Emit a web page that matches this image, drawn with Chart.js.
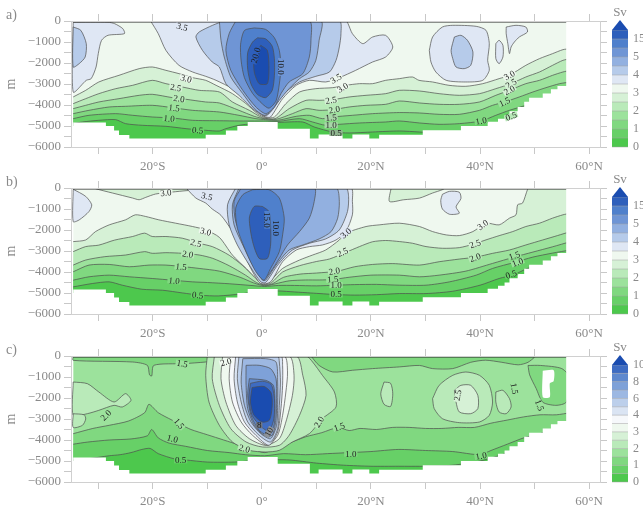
<!DOCTYPE html>
<html>
<head>
<meta charset="utf-8">
<script src="https://cdn.jsdelivr.net/npm/chart.js@4.4.1/dist/chart.umd.min.js"></script>
<style>
  body { margin: 0; background: #fff; width: 643px; height: 509px; position: relative; overflow: hidden; }
  canvas { position: absolute; left: 0; }
</style>
</head>
<body>
<canvas id="pa" width="643" height="175" style="top:0"></canvas>
<canvas id="pb" width="643" height="175" style="top:167px"></canvas>
<canvas id="pc" width="643" height="175" style="top:335px"></canvas>
<script>
// colour levels (Sv)
const G = ['#4dc84d', '#67d067', '#80d880', '#9ce29c', '#b9eab9', '#d6f1d6', '#eff8ef']; // 0-0.5 ... 3-3.5
const B = ['#dfe7f4', '#b6cbea', '#92b0e0', '#6f95d5', '#4f80cc', '#2e5fbb', '#1a4cb0']; // 3.5-4,4-4.5,4.5-5,5-10,10-15,15-20,>20
const BC = ['#f6f8fb', '#dae4f3', '#bccfeb', '#9db8e2', '#7ea1d8', '#5f89ce', '#3e6cc2', '#1a4cb0']; // panel c: 3.5-4,4-5,...,9-10,>10
const LINE = '#4d4d4d';

// bottom topography, shared by the three panels (lat, depth)
const bathyLat = [-35, -34.6, -28.6, -27.1, -26.2, -24.3, -10.3, -6.6, -4.5, -2.6, 2.9, 8.8, 10.4, 14.8, 16.6, 19.7, 21.5, 29.5, 36.5, 41.4, 43.3, 44.5, 45.4, 46.9, 48.1, 49.0, 51.5, 53.0, 54.2, 55.8, 56.6, 62];
const bathyDep = [0, -5000, -4830, -5000, -5220, -5430, -5590, -5420, -5210, -5000, -4810, -5130, -5590, -5410, -5590, -5410, -5590, -5420, -5200, -5000, -4800, -4650, -4500, -4300, -4100, -3850, -3650, -3450, -3250, -3100, 0, 0];

// ---------- panel a : contours [lat, depth]
const a_c30 = [[-34.6,-3618],[-32.3,-3301],[-29.9,-2904],[-26.2,-2587],[-22.5,-2269],[-20.1,-2190],[-17.6,-2349],[-15.2,-2507],[-12.7,-2698],[-10.3,-2825],[-8.4,-3063],[-5.4,-3460],[-2.9,-3936],[-0.8,-4412],[0.7,-4602],[2.3,-4571],[4.4,-3936],[6.9,-3380],[9.9,-3222],[13.0,-3174],[15.4,-3063],[17.9,-2984],[20.3,-2984],[22.7,-2825],[25.2,-2745],[27.6,-2666],[28.8,-2825],[31.3,-2904],[34.3,-3063],[37.4,-3110],[40.5,-2984],[43.5,-2745],[45.4,-2587],[48.4,-2111],[50.9,-1793],[53.3,-1555],[55.2,-1365],[56.6,-1317]];
const a_c25 = [[-34.6,-3936],[-32.3,-3698],[-29.9,-3460],[-26.8,-3222],[-23.7,-3063],[-20.1,-2825],[-17.6,-2984],[-14.6,-3142],[-11.5,-3301],[-7.8,-3380],[-5.4,-3856],[-2.3,-4253],[0.1,-4602],[2.4,-4650],[5.0,-4174],[8.1,-3777],[10.5,-3777],[13.0,-3745],[16.0,-3618],[19.1,-3539],[22.7,-3460],[25.2,-3300],[28.9,-3333],[32.5,-3460],[36.2,-3539],[39.9,-3460],[42.9,-3222],[45.7,-2984],[48.4,-2666],[50.9,-2428],[53.3,-2111],[55.2,-1873],[56.6,-1793]];
const a_c20 = [[-34.6,-4174],[-32.3,-4015],[-29.9,-3856],[-26.2,-3698],[-22.5,-3539],[-20.1,-3491],[-16.4,-3650],[-13.9,-3729],[-10.3,-3856],[-7.8,-3904],[-4.2,-4253],[-1.4,-4539],[0.4,-4650],[2.6,-4682],[5.6,-4412],[8.1,-4174],[10.5,-4253],[13.0,-4221],[16.0,-4094],[19.1,-4015],[22.7,-3968],[25.2,-3809],[28.9,-3904],[32.5,-3968],[36.2,-3968],[39.9,-3856],[42.9,-3539],[45.4,-3301],[48.4,-2984],[50.9,-2825],[53.3,-2587],[55.2,-2428],[56.6,-2349]];
const a_c15 = [[-34.6,-4412],[-31.7,-4253],[-28.0,-4094],[-25.0,-4063],[-20.1,-4015],[-16.4,-4126],[-12.7,-4253],[-7.8,-4333],[-4.2,-4491],[-1.1,-4650],[0.7,-4698],[2.9,-4729],[6.3,-4539],[8.7,-4491],[11.1,-4650],[13.0,-4571],[16.6,-4491],[20.3,-4412],[25.2,-4360],[28.9,-4380],[32.5,-4444],[36.2,-4444],[39.9,-4253],[42.3,-4015],[44.5,-3856],[47.2,-3618],[49.7,-3380],[52.1,-3174],[54.6,-2984],[56.6,-2904]];
const a_c10 = [[-34.6,-4650],[-31.7,-4491],[-26.8,-4412],[-23.7,-4491],[-20.1,-4571],[-16.4,-4618],[-12.7,-4729],[-7.8,-4750],[-4.2,-4761],[-0.5,-4761],[1.0,-4761],[3.1,-4777],[6.9,-4650],[9.3,-4809],[11.7,-4967],[14.2,-4920],[17.9,-4856],[22.7,-4809],[25.2,-4761],[28.9,-4856],[32.5,-4920],[36.2,-4888],[40.2,-4761],[42.9,-4491],[45.4,-4253],[48.4,-4015],[50.9,-3777],[53.3,-3539],[55.8,-3301],[56.6,-3269]];
const a_c05 = [[-34.6,-4888],[-32.9,-4809],[-29.9,-4729],[-26.8,-4698],[-25.0,-4888],[-21.9,-4967],[-17.6,-5015],[-13.9,-5126],[-10.3,-5205],[-7.8,-5237],[-6.6,-5126],[-4.2,-4967],[-1.7,-4888],[1.3,-4825],[3.2,-4825],[7.5,-4809],[9.6,-5047],[13.0,-5285],[16.0,-5332],[20.3,-5285],[25.2,-5237],[28.9,-5285],[32.5,-5332],[36.2,-5285],[39.9,-5126],[42.9,-4888],[45.7,-4571],[48.4,-4333],[50.9,-4174],[53.3,-3856],[55.2,-3698],[56.6,-3539]];
// panel a : closed areas
const a_L35 = [[-34.6,-60],[-28.2,-60],[-27,-127],[-25.5,-365],[-25.2,-600],[-28.2,-680],[-29.4,-920],[-30,-1555],[-30.4,-2190],[-31.3,-2745],[-32.2,-2825],[-34.6,-3380]];
const a_L40 = [[-34.6,-285],[-33.2,-445],[-32.2,-1080],[-32.4,-1715],[-33.5,-2030],[-34.6,-2190]];
const a_K35 = [[-20.4,0],[-19,-603],[-17.6,-1397],[-15.2,-2111],[-12.7,-2428],[-10.3,-2634],[-8.4,-2825],[-5.4,-3222],[-2.3,-3856],[0.1,-4491],[0.7,-4571],[1.6,-4571],[3.8,-3698],[6.3,-3063],[8.7,-2825],[11.7,-2904],[14.2,-2698],[17.2,-2349],[20.3,-1952],[22.7,-1714],[24,-1238],[22.7,-682],[20.3,-762],[18.5,-1079],[16.6,-603],[15.8,-127],[15.4,0]];
const a_K40 = [[-7,0],[-9,-200],[-11.5,-524],[-12.1,-762],[-10.9,-1397],[-9.1,-1952],[-7.8,-2190],[-6.6,-2984],[-4.2,-3539],[-1.7,-4174],[0.1,-4491],[1.0,-4491],[2.6,-3936],[4.4,-3380],[6.9,-2904],[9.9,-2634],[12.4,-2428],[13.6,-1873],[14.2,-1238],[14.5,-603],[14.2,0]];
const a_K45 = [[-7.8,0],[-7.5,-920],[-6.9,-1714],[-5.7,-2666],[-3.5,-3460],[-1.4,-4174],[0.4,-4491],[1.6,-4333],[3.2,-3777],[5.0,-3222],[6.9,-2745],[8.7,-2428],[9.9,-1873],[10.5,-920],[10.8,0]];
const a_K5 = [[-4.8,0],[-6.0,-603],[-6.6,-1397],[-5.7,-2349],[-3.5,-3301],[-1.1,-4094],[0.7,-4412],[2.3,-4094],[3.5,-3460],[5.0,-2904],[7.5,-2507],[8.7,-1714],[9.0,-920],[8.7,0]];
const a_K10 = [[-1.4,-330],[-3.2,-450],[-3.9,-1100],[-3.8,-1900],[-3.2,-2700],[-1.7,-3450],[0.1,-3950],[1.3,-4150],[2.6,-3800],[3.2,-3000],[3.5,-2200],[3.2,-1400],[2.3,-800],[0.7,-400]];
const a_K15 = [[-0.8,-800],[-1.7,-1000],[-2.6,-1500],[-2.6,-2300],[-2.0,-3000],[-0.8,-3500],[0.7,-3650],[1.9,-3300],[2.3,-2600],[2.3,-1800],[1.9,-1200],[0.7,-850]];
const a_K20 = [[-0.2,-1159],[-1.4,-1714],[-1.4,-2428],[-0.5,-2984],[1.0,-2984],[1.3,-2190],[1.0,-1397]];
const a_R35 = [[30.7,-1397],[31.3,-762],[33.1,-286],[35,-206],[39.3,-254],[41.1,-444],[41.7,-1079],[41.4,-1873],[41.7,-2349],[40.5,-2825],[37.4,-2904],[33.8,-2825],[31.9,-2428],[31,-1952]];
const a_R40 = [[35.3,-762],[36.5,-682],[37.7,-920],[38.7,-1476],[38.3,-2111],[37.1,-2269],[35.6,-2190],[35,-1793],[34.7,-1397]];
const a_F1 = [[42.9,-1079],[43.5,-920],[44.2,-1159],[44.2,-1714],[43.5,-2032],[42.9,-1793]];
const a_F2 = [[44.8,-286],[46.6,-206],[48.4,-286],[48.7,-524],[47.2,-762],[46.3,-1000],[45.7,-1238],[45.4,-1555],[45.1,-1079],[44.8,-603]];
const a_labels = [[-14.6,-286,'3.5',15],[-13.9,-2745,'3.0',15],[-15.8,-3174,'2.5',10],[-15.2,-3698,'2.0',8],[-16.1,-4142,'1.5',5],[-17.0,-4650,'1.0',5],[-11.8,-5205,'0.5',5],
  [-1.1,-1635,'20.0',-75],[3.5,-2190,'10.0',90],
  [13.6,-2745,'3.5',-30],[14.8,-3174,'3.0',-30],[12.7,-3777,'2.5',-10],[13.3,-4221,'2.0',-10],[12.7,-4602,'1.5',-5],[12.7,-4967,'1.0',0],[13.6,-5332,'0.5',0],
  [45.4,-2587,'3.0',-30],[45.7,-2984,'2.5',-30],[45.4,-3301,'2.0',-30],[44.5,-3856,'1.5',-25],[40.2,-4761,'1.0',-10],[45.7,-4539,'0.5',-20]];

// ---------- panel b
const b_c30 = [[-34.6,-2554],[-32.3,-2474],[-30.5,-2075],[-28,-1756],[-25,-1516],[-23.2,-1277],[-21.3,-1357],[-18.9,-1516],[-15.8,-1676],[-12.7,-1835],[-10.3,-1995],[-7.8,-2350],[-5.4,-3192],[-2.9,-3830],[-0.8,-4389],[0.7,-4600],[2,-4300],[3.8,-3830],[6.9,-3431],[9.3,-3192],[11.7,-2953],[14.2,-2474],[15.4,-2155],[19.1,-1835],[21.5,-1756],[25.2,-1676],[28.9,-1835],[31.3,-2075],[33.8,-2234],[36.2,-2266],[38.7,-2075],[41.1,-1676],[43.5,-1756],[45.4,-1436],[46.6,-1277],[46.9,-798],[47.8,-718],[48.7,-80],[49,0],[57,0]];
const b_c25 = [[-34.6,-3030],[-32.3,-2790],[-29.9,-2720],[-27,-2480],[-23.7,-2310],[-21.5,-2150],[-20.1,-2310],[-17.6,-2310],[-14.6,-2390],[-11.5,-2633],[-9,-2800],[-6,-3200],[-3.5,-3700],[-1.5,-4200],[0.3,-4620],[1.8,-4500],[3.8,-4000],[6.9,-3700],[10,-3500],[12.4,-3380],[15.4,-3064],[17.9,-2790],[20.3,-2560],[22.7,-2500],[25.2,-2550],[27.6,-2630],[30.1,-2790],[33.1,-2870],[36.2,-2840],[38.7,-2680],[41.1,-2470],[43.5,-2270],[46,-2075],[48.4,-1835],[50.9,-1676],[53.3,-1436],[55.2,-1277],[56.6,-1197]];
const b_c20 = [[-34.6,-3670],[-32.3,-3430],[-28.8,-3270],[-25,-3192],[-21.5,-3030],[-20.1,-3110],[-17.6,-3080],[-14.6,-3110],[-11.5,-3190],[-9,-3350],[-6,-3700],[-3,-4150],[-1,-4500],[0.5,-4640],[2,-4550],[4,-4250],[7,-4100],[10,-4050],[13.9,-3958],[17,-3750],[20.3,-3640],[24,-3600],[28.9,-3671],[32.5,-3511],[36.2,-3384],[39.3,-3288],[42.3,-3112],[45.4,-2953],[48.4,-2713],[51.5,-2474],[54.2,-2266],[56.6,-2075]];
const b_c15 = [[-34.6,-3990],[-31.7,-3671],[-28,-3640],[-24.3,-3750],[-20.7,-3671],[-17.6,-3671],[-14.2,-3751],[-11.5,-3830],[-7.8,-3958],[-4,-4250],[-1.5,-4520],[0.5,-4660],[2.5,-4560],[5,-4420],[8,-4380],[10.5,-4380],[13,-4357],[16,-4250],[20,-4150],[25.2,-4150],[28.9,-4229],[32.5,-4150],[37.4,-3958],[42.3,-3591],[46.3,-3288],[49.7,-3050],[53.3,-2800],[56.6,-2554]];
const b_c10 = [[-34.6,-4389],[-31.7,-4229],[-28,-4150],[-24.3,-4229],[-20.1,-4309],[-16.4,-4389],[-12.7,-4470],[-10,-4500],[-6,-4560],[-2,-4640],[0.5,-4690],[3,-4640],[6,-4640],[10,-4660],[13.6,-4628],[17,-4600],[21,-4590],[25.2,-4628],[30.1,-4628],[34.4,-4469],[39.3,-4150],[42.3,-3830],[46.3,-3543],[49.7,-3290],[53.3,-3100],[56.6,-2950]];
const b_c05 = [[-34.6,-4708],[-31.1,-4549],[-28,-4469],[-25.6,-4628],[-22,-4820],[-18.2,-4868],[-14.6,-4995],[-11.2,-5107],[-8,-5139],[-4,-5050],[0,-4900],[3,-4900],[6,-4950],[9,-5000],[13.6,-5075],[17,-5100],[21,-5080],[25.2,-5027],[30.1,-5027],[35,-4916],[40,-4628],[43.5,-4309],[46.3,-4118],[48.7,-3830],[51.5,-3670],[53.3,-3511],[56.6,-3250]];
const b_lens = [[-30.5,0],[-30.5,-32],[-27.4,-239],[-23.7,-479],[-22.5,-559],[-21.3,-447],[-19.5,-287],[-16.4,-192],[-13.9,-128],[-11.5,-80],[-11,0]];
const b_L35 = [[-34.6,-60],[-32.3,-400],[-31.2,-800],[-31.7,-1120],[-33.5,-1520],[-34.6,-1600]];
const b_K35 = [[-13.9,0],[-12.1,-479],[-10.3,-718],[-9.1,-1000],[-7.5,-1300],[-5.4,-2075],[-3.5,-3032],[-1.7,-3990],[-0.2,-4549],[1.6,-4469],[3.8,-3511],[6.3,-2953],[8.7,-2793],[11.1,-2713],[13.6,-2474],[15.4,-2075],[16.6,-1277],[16.6,-638],[16.3,0]];
const b_K40 = [[-4.8,0],[-6.3,-798],[-6.0,-1756],[-4.5,-2713],[-2.3,-3671],[-0.2,-4469],[0.7,-4501],[2.9,-3671],[5.6,-2953],[8.7,-2633],[11.7,-2426],[14.2,-1995],[15.7,-1117],[15.9,-399],[15.4,0]];
const b_K45 = [[-4.2,0],[-5.4,-798],[-5.1,-1756],[-3.5,-2713],[-1.7,-3671],[0.1,-4389],[0.7,-4389],[2.6,-3671],[5.0,-2953],[7.5,-2713],[10.5,-2426],[12.7,-2075],[13.9,-1436],[14.2,-638],[13.6,0]];
const b_K5 = [[-3.8,0],[-5.1,-638],[-4.8,-1596],[-3.2,-2554],[-1.4,-3591],[0.4,-4309],[1.6,-3990],[3.2,-3352],[4.7,-2713],[6.9,-2075],[8.7,-1436],[9.6,-638],[9.6,0]];
const b_K10 = [[-1.7,-80],[-3.5,-319],[-4.8,-958],[-4.5,-1915],[-2.9,-3032],[-1.1,-3990],[0.4,-4389],[1.6,-3830],[3.2,-3032],[3.8,-2234],[4.1,-1436],[3.2,-479],[1.3,-80]];
const b_K15 = [[0.1,-878],[-1.4,-878],[-2.3,-1436],[-1.7,-2554],[-0.5,-3352],[1.0,-3352],[1.6,-2713],[1.6,-1756],[1.3,-1117]];
const b_TR = [[23.7,0],[23.4,-640],[26,-560],[28.9,-480],[31.3,-240],[33.1,-80],[33.5,0]];
const b_R35 = [[33.1,-300],[34.4,-160],[36.2,-200],[36.5,-500],[35.6,-900],[36.2,-1200],[34.4,-1250],[33.1,-1000],[32.8,-600]];
const b_labels = [[-17.6,-230,'3.0',-5],[-10.1,-399,'3.5',15],[-10.3,-2075,'3.0',15],[-12.1,-2633,'2.5',15],[-13.6,-3160,'2.0',10],[-14.8,-3751,'1.5',5],[-16.1,-4421,'1.0',5],[-11.8,-5107,'0.5',5],
  [1.0,-1516,'15.0',90],[2.6,-1915,'10.0',90],
  [15.4,-2155,'3.0',-40],[14.8,-3064,'2.5',-25],[13.3,-3958,'2.0',-10],[13.0,-4357,'1.5',-5],[13.6,-4628,'1.0',0],[13.6,-5075,'0.5',0],
  [40.5,-1756,'3.0',-35],[39.1,-2665,'2.5',-20],[39.1,-3320,'2.0',-20],[46.3,-3224,'1.5',-20],[46.9,-3543,'1.0',-20],[45.7,-4118,'0.5',-20]];

// ---------- panel c
const c_c15 = [[-34.6,-3700],[-31,-3450],[-28,-3300],[-24.5,-3100],[-21.5,-2700],[-20.7,-2300],[-19,-2700],[-16.5,-3050],[-15.2,-3222],[-13,-3500],[-10,-3750],[-7,-4000],[-4,-4250],[-1.5,-4450],[0.5,-4600],[2.5,-4400],[5,-4150],[8,-3850],[11,-3650],[14,-3400],[16,-3550],[18,-3450],[21,-3500],[24,-3400],[27,-3400],[30,-3450],[33,-3450],[36,-3400],[39,-3400],[42,-3200],[45,-3050],[48,-2900],[51,-2800],[54,-2800],[56.6,-2700]];
const c_c10 = [[-34.6,-4200],[-32,-4100],[-28,-4000],[-24,-3950],[-21,-3800],[-20.2,-3500],[-19,-3900],[-17,-4150],[-14,-4300],[-10,-4500],[-6,-4600],[-3,-4700],[0.5,-4750],[4,-4650],[8,-4700],[12,-4650],[16,-4600],[20,-4550],[25,-4450],[30,-4500],[35,-4550],[40,-4700],[42,-4500],[45,-4200],[48,-3900],[51,-3700],[54,-3400],[56.6,-3100]];
const c_c05 = [[-34.6,-4950],[-32,-4900],[-28,-4750],[-26,-4700],[-24,-4600],[-22,-4450],[-20.5,-4400],[-19,-4650],[-16,-4900],[-14,-4950],[-10,-5050],[-5,-5050],[0,-4950],[5,-4950],[10,-5100],[15,-5200],[20,-5250],[25,-5250],[30,-5250],[35,-5200],[40,-5000],[44,-4700],[48,-4300],[52,-3800],[56.6,-3400]];
const c_TL = [[-34.6,0],[-34.6,-206],[-23.7,-286],[-21,-444],[-20.6,-900],[-20.2,-950],[-19.8,-444],[-14.3,-365],[-10.3,-286],[-7.8,-206],[-6,-100],[-6,0]];
const c_TR = [[9,0],[10.5,-450],[13,-760],[16.6,-680],[20.3,-600],[25.2,-520],[28.9,-450],[31.3,-600],[35,-600],[38.3,-300],[41,-200],[44,-300],[47,-420],[48.8,-300],[50,0]];
const c_D = [[48.8,-450],[51.1,-450],[55,-600],[56.6,-1100],[55.8,-2200],[53.9,-2350],[51.5,-2200],[50.3,-1550],[49.1,-900]];
const c_W = [[51.5,-700],[53.5,-680],[53.5,-1200],[52.8,-1300],[52.8,-1950],[51.5,-1950]];
const c_B1 = [[-34.6,-1238],[-32,-1317],[-29.9,-1714],[-27.1,-2190],[-25,-1793],[-24,-2111],[-25.6,-2428],[-27.1,-2349],[-29.9,-2587],[-32,-2746],[-34.6,-2825]];
const c_B2 = [[-34.6,-2750],[-32.6,-2800],[-32.3,-3000],[-32.9,-3300],[-34.6,-3400]];
const c_R1 = [[22.4,-1240],[23.6,-1300],[24,-1800],[23.6,-2400],[22.4,-2300],[21.8,-1800]];
const c_R2 = [[31.3,-2031],[32.5,-1397],[35,-920],[37.4,-762],[39.9,-920],[41.7,-1397],[42.3,-2190],[41.7,-2825],[39.9,-3142],[36.2,-3174],[33.1,-2984],[31.6,-2507]];
const c_R25 = [[35.3,-1635],[36.5,-1397],[38.3,-1397],[39.6,-1873],[39.6,-2507],[38.3,-2746],[36.2,-2666],[35.6,-2190]];
const c_F1 = [[42.9,-1714],[44.2,-1635],[45.4,-2031],[45.7,-2428],[44.8,-2746],[43.5,-2666],[42.9,-2190]];
const c_K20 = [[-10.0,0],[-10.3,-920],[-9.7,-2190],[-7.8,-3301],[-5.4,-4094],[-2.3,-4491],[0.7,-4571],[3.2,-4491],[5.6,-4094],[8.7,-3698],[11.1,-2984],[13.6,-2428],[13.3,-1714],[11.1,-920],[9.3,-286],[8.1,0]];
const c_K25 = [[-8.7,0],[-9.1,-1079],[-7.8,-2349],[-5.7,-3460],[-2.9,-4094],[0.1,-4333],[3.2,-4253],[5.0,-3777],[6.9,-2825],[8.1,-1873],[7.5,-920],[6.3,0]];
const c_K30 = [[-7.2,0],[-7.5,-1079],[-6.6,-2190],[-4.8,-3301],[-2.3,-3936],[0.7,-4253],[3.2,-3936],[4.4,-3142],[5.6,-1873],[5.9,-920],[5.0,0]];
const c_K35 = [[-5.7,0],[-6.0,-1079],[-5.4,-2190],[-3.8,-3142],[-1.7,-3777],[1.0,-4253],[2.9,-3777],[3.8,-2825],[4.4,-1714],[4.7,-762],[4.1,0]];
const c_K4 = [[-4.8,0],[-5.1,-1079],[-4.5,-2190],[-3.2,-3142],[-1.1,-3777],[1.3,-4253],[2.9,-3618],[3.5,-2507],[3.8,-1397],[3.8,-444],[3.5,0]];
const c_K5 = [[-4.2,0],[-4.5,-1079],[-3.8,-2190],[-2.6,-3142],[-0.5,-3777],[1.6,-4094],[2.9,-3460],[3.2,-2349],[3.4,-1238],[3.2,-286],[2.9,0]];
const c_K6 = [[-3.5,-127],[-3.8,-1238],[-3.2,-2349],[-2.0,-3142],[-0.2,-3698],[1.6,-3936],[2.7,-3301],[2.9,-2190],[2.9,-1238],[2.6,-286],[0.7,-127]];
const c_K7 = [[-2.9,-444],[-2.9,-1397],[-2.6,-2507],[-1.4,-3301],[0.4,-3777],[1.9,-3777],[2.6,-2984],[2.7,-2031],[2.6,-1079],[1.6,-603],[-0.5,-444]];
const c_K8 = [[-2.3,-1079],[-2.6,-1873],[-2.0,-2825],[-0.5,-3539],[1.3,-3777],[2.3,-3222],[2.4,-2190],[2.1,-1397],[0.7,-1159]];
const c_K9 = [[-2.1,-1300],[-2.4,-2031],[-1.8,-2825],[-0.2,-3350],[1.3,-3580],[2.2,-2984],[2.3,-2031],[1.7,-1350],[0.1,-1200]];
const c_K10 = [[-1.8,-1500],[-2.1,-2190],[-1.5,-2800],[0.1,-3150],[1.4,-3050],[1.9,-2349],[1.7,-1750],[0.4,-1450]];
const c_labels = [[-14.6,-365,'1.5',10],[-28.6,-2825,'2.0',-45],[-15.2,-3222,'1.5',50],[-16.4,-3936,'1.0',15],[-14.9,-4967,'0.5',0],
  [-6.6,-286,'2.0',-15],[-3.2,-4412,'2.0',15],[-0.5,-3301,'8',0],[1.3,-3618,'10',-60],[10.5,-3142,'2.0',-60],[14.2,-3380,'1.5',-20],[16.3,-4650,'1.0',0],
  [35.9,-1873,'2.5',-80],[46.3,-1555,'1.5',80],[50.9,-2349,'1.5',70],[40.2,-4761,'1.0',-10]];

// colour bars
const barAB = [...G, ...B.slice(0, 6)];
const barABTicks = [[0,'0'],[2,'1'],[4,'2'],[6,'3'],[8,'4'],[10,'5'],[12,'15']];
const barC = [...G, ...BC.slice(0, 7)];
const barCTicks = [[0,'0'],[2,'1'],[4,'2'],[6,'3'],[8,'4'],[10,'6'],[12,'8'],[14,'10']];

// ---------- helpers
const pts = arr => arr.map(([x, y]) => ({ x, y }));
const band = (d, c) => ({ data: pts(d), backgroundColor: c, borderColor: LINE, borderWidth: 0.7, fill: 'start', tension: 0.25 });
const blob = (d, c, line = true) => ({ data: pts([...d, d[0]]), backgroundColor: c, borderColor: line ? LINE : 'rgba(0,0,0,0)', borderWidth: line ? 0.7 : 0, fill: 'shape', tension: 0.25 });
const base = c => ({ data: pts([[-34.6, 0], [56.6, 0]]), backgroundColor: c, borderWidth: 0, fill: 'start' });
const surface = () => ({ data: pts([[-34.6, -25], [56.6, -25]]), borderColor: '#262626', borderWidth: 2, fill: false });
const mask = () => ({ data: bathyLat.map((x, i) => ({ x, y: bathyDep[i] })), backgroundColor: '#ffffff', borderWidth: 0, fill: 'start', stepped: 'after' });

const serif = '"Liberation Serif", "DejaVu Serif", serif';
const GREY = '#8a8a8a';
const latLabel = v => v % 20 !== 0 ? '' : v === 0 ? '0°' : v < 0 ? (-v) + '°S' : v + '°N';
const depLabel = v => v % 1000 !== 0 ? '' : v === 0 ? '0' : '−' + (-v);
const grid = { drawOnChartArea: false, drawTicks: true, tickLength: 7, color: '#c8c8c8' };
const border = { display: true, color: '#d0d0d0', z: 1 };

// band colour next to a contour label: brightest sample across the line that is not bare white
function bandColour(ctx, px, py, a) {
  let best = null, bestSum = -1;
  for (const d of [-5, 5, -7, 7]) {
    const p = ctx.getImageData(Math.round(px + d * Math.sin(a)), Math.round(py - d * Math.cos(a)), 1, 1).data;
    const s = p[0] + p[1] + p[2];
    if (s < 755 && s > bestSum) { bestSum = s; best = p; }
  }
  return best ? `rgb(${best[0]},${best[1]},${best[2]})` : '#ffffff';
}

function deco(spec) {
  return {
    id: 'deco',
    afterDatasetsDraw(chart) {
      const { ctx, scales: { x, y } } = chart;
      ctx.font = '9px ' + serif;
      ctx.textAlign = 'center';
      ctx.textBaseline = 'middle';
      for (const [lat, dep, txt, ang] of spec.labels) {
        const px = x.getPixelForValue(lat), py = y.getPixelForValue(dep);
        const a = ang * Math.PI / 180;
        const bg = bandColour(ctx, px, py, a);
        const w = ctx.measureText(txt).width + 2;
        ctx.save();
        ctx.translate(px, py);
        ctx.rotate(a);
        ctx.fillStyle = bg;
        ctx.fillRect(-w / 2, -3, w, 6);
        ctx.fillStyle = '#1e1e1e';
        ctx.fillText(txt, 0, 0.5);
        ctx.restore();
      }
    },
    afterDraw(chart) {
      const { ctx, chartArea: { top, bottom } } = chart;
      ctx.save();
      // colour bar
      const x0 = 612, w = 16, t0 = top + 9;
      const n = spec.bar.length, h = (bottom - t0) / n;
      spec.bar.forEach((c, i) => {
        ctx.fillStyle = c;
        ctx.fillRect(x0, bottom - (i + 1) * h, w, h);
      });
      ctx.strokeStyle = '#a0a0a0';
      ctx.lineWidth = 0.5;
      for (let i = 0; i <= n; i++) {
        ctx.beginPath(); ctx.moveTo(x0, bottom - i * h); ctx.lineTo(x0 + w, bottom - i * h); ctx.stroke();
      }
      ctx.fillStyle = spec.tri;
      ctx.beginPath(); ctx.moveTo(x0, t0); ctx.lineTo(x0 + w / 2, top - 1); ctx.lineTo(x0 + w, t0); ctx.closePath(); ctx.fill();
      ctx.fillStyle = GREY;
      ctx.font = '12px ' + serif;
      ctx.textAlign = 'left'; ctx.textBaseline = 'middle';
      for (const [i, txt] of spec.ticks) ctx.fillText(txt, 633, bottom - i * h);
      ctx.textAlign = 'center';
      ctx.font = '13px ' + serif;
      ctx.fillText('Sv', 620, top - 8);
      // panel letter and axis title
      ctx.font = '14px ' + serif;
      ctx.textAlign = 'left';
      ctx.fillText(spec.letter, 6, top - 6);
      ctx.translate(11, (top + bottom) / 2);
      ctx.rotate(-Math.PI / 2);
      ctx.textAlign = 'center';
      ctx.fillText('m', 0, 0);
      ctx.restore();
    }
  };
}

function makePanel(id, sets, spec) {
  const n = sets.length;
  sets.forEach((s, i) => { s.order = n - i; s.pointRadius = 0; s.xAxisID = 'x'; s.yAxisID = 'y'; });
  new Chart(document.getElementById(id), {
    type: 'line',
    data: { datasets: sets },
    options: {
      responsive: false, animation: false, events: [],
      layout: { padding: 0 },
      plugins: { legend: { display: false }, tooltip: { enabled: false } },
      scales: {
        x: { type: 'linear', position: 'bottom', min: -35, max: 62, afterFit: s => { s.height = 28; },
             ticks: { stepSize: 10, includeBounds: false, autoSkip: false, maxRotation: 0, padding: 5, color: GREY, font: { family: serif, size: 13 }, callback: latLabel },
             grid, border },
        x2: { type: 'linear', position: 'top', min: -35, max: 62, afterFit: s => { s.height = 21; },
              ticks: { stepSize: 10, includeBounds: false, display: false }, grid, border },
        y: { type: 'linear', position: 'left', min: -6000, max: 0, afterFit: s => { s.width = 71; },
             ticks: { stepSize: 500, includeBounds: false, autoSkip: false, padding: 3, color: GREY, font: { family: serif, size: 13 }, callback: depLabel },
             grid, border },
        y2: { type: 'linear', position: 'right', min: -6000, max: 0, afterFit: s => { s.width = 43; },
              ticks: { stepSize: 500, display: false }, grid, border }
      }
    },
    plugins: [deco(spec)]
  });
}

makePanel('pa', [
  base(G[6]),
  band(a_c30, G[5]), band(a_c25, G[4]), band(a_c20, G[3]), band(a_c15, G[2]), band(a_c10, G[1]), band(a_c05, G[0]),
  blob(a_L35, B[0]), blob(a_L40, B[1]),
  blob(a_K35, B[0]), blob(a_K40, B[1]), blob(a_K45, B[2]), blob(a_K5, B[3]), blob(a_K10, B[4]), blob(a_K15, B[5]), blob(a_K20, B[6]),
  blob(a_R35, B[0]), blob(a_R40, B[1]), blob(a_F1, B[0]), blob(a_F2, B[0]),
  surface(), mask()
], { letter: 'a)', labels: a_labels, bar: barAB, tri: B[6], ticks: barABTicks });

makePanel('pb', [
  base(G[6]),
  band(b_c30, G[5]), band(b_c25, G[4]), band(b_c20, G[3]), band(b_c15, G[2]), band(b_c10, G[1]), band(b_c05, G[0]),
  blob(b_lens, G[5]), blob(b_TR, G[5]), blob(b_L35, B[0]), blob(b_R35, B[0]),
  blob(b_K35, B[0]), blob(b_K40, B[1]), blob(b_K45, B[2]), blob(b_K5, B[3]), blob(b_K10, B[4]), blob(b_K15, B[5]),
  surface(), mask()
], { letter: 'b)', labels: b_labels, bar: barAB, tri: B[6], ticks: barABTicks });

makePanel('pc', [
  base(G[3]),
  band(c_c15, G[2]), band(c_c10, G[1]), band(c_c05, G[0]),
  blob(c_TL, G[2]), blob(c_TR, G[2]), blob(c_D, G[2]),
  blob(c_B1, G[4]), blob(c_B2, G[4]), blob(c_R1, G[4]), blob(c_R2, G[4]), blob(c_R25, G[5]), blob(c_F1, G[4]),
  blob(c_K20, G[4]), blob(c_K25, G[5]), blob(c_K30, G[6]), blob(c_K35, BC[0]), blob(c_K4, BC[1]), blob(c_K5, BC[2]),
  blob(c_K6, BC[3]), blob(c_K7, BC[4]), blob(c_K8, BC[5]), blob(c_K9, BC[6]), blob(c_K10, BC[7]),
  blob(c_W, '#ffffff', false),
  surface(), mask()
], { letter: 'c)', labels: c_labels, bar: barC, tri: BC[7], ticks: barCTicks });
</script>
</body>
</html>
